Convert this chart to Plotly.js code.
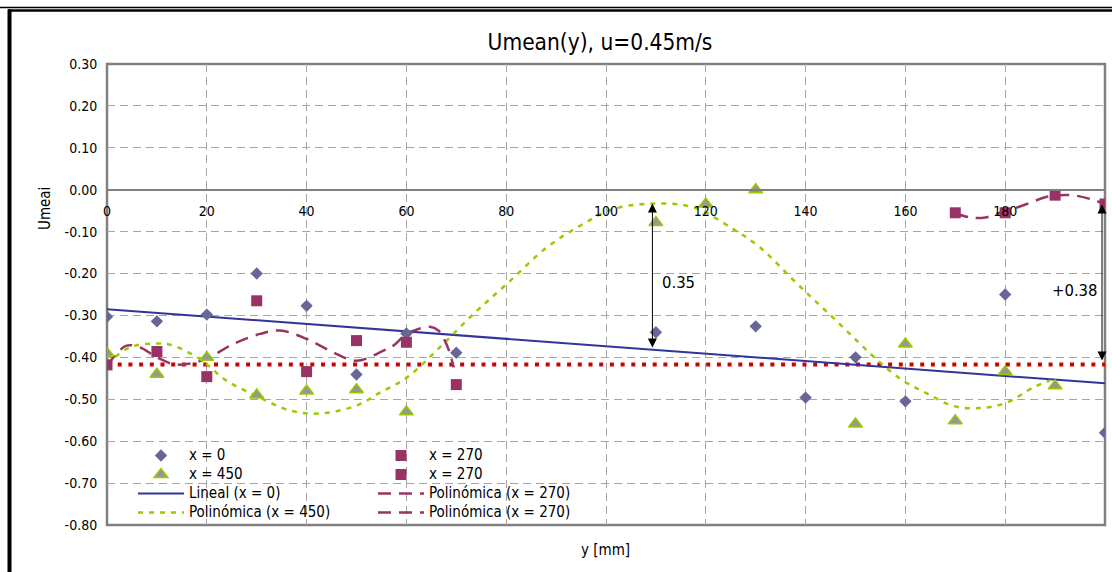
<!DOCTYPE html>
<html>
<head>
<meta charset="utf-8">
<script src="https://cdn.plot.ly/plotly-3.0.1.min.js"></script>
<style>
  html, body { margin: 0; padding: 0; background: #ffffff; }
  #chart { width: 1112px; height: 572px; }
</style>
</head>
<body>
<div id="chart"></div>
<script>
// ---------- DATA ----------
// horizontal axis: y [mm]; vertical axis: Umean
const posX0 = [0, 10, 20, 30, 40, 50, 60, 70, 110, 130, 140, 150, 160, 180, 200];
const umeanX0 = [-0.303, -0.314, -0.298, -0.200, -0.277, -0.441, -0.343, -0.389, -0.340, -0.326, -0.496, -0.400, -0.505, -0.250, -0.580];

const posX450 = [0, 10, 20, 30, 40, 50, 60, 110, 120, 130, 150, 160, 170, 180, 190];
const umeanX450 = [-0.390, -0.440, -0.400, -0.490, -0.480, -0.477, -0.530, -0.078, -0.034, 0.000, -0.559, -0.368, -0.551, -0.434, -0.468];

const posX270a = [0, 10, 20, 30, 40, 50, 60, 70];
const umeanX270a = [-0.418, -0.386, -0.446, -0.265, -0.434, -0.360, -0.364, -0.465];

const posX270b = [170, 180, 190, 200];
const umeanX270b = [-0.055, -0.055, -0.013, -0.034];

// trend line "Lineal (x = 0)"
const linPos = [0, 200];
const linVal = [-0.285, -0.462];

// trend curve "Polinómica (x = 450)"
const poly450Pos = [0, 4.6, 10, 13.3, 18.6, 24, 30, 36.7, 42.7, 50, 54.7, 60.1, 66.7, 73.4, 80.1, 88.1, 94.8, 101.5, 109.5, 117.5, 125.5, 130.9, 137.5, 141.9, 146.2, 150.6, 154.9, 159.6, 164.3, 169.6, 175, 180.3, 185.6, 189];
const poly450Val = [-0.416, -0.376, -0.367, -0.372, -0.404, -0.456, -0.492, -0.527, -0.534, -0.515, -0.484, -0.448, -0.376, -0.297, -0.225, -0.138, -0.086, -0.046, -0.033, -0.042, -0.094, -0.138, -0.215, -0.265, -0.313, -0.364, -0.412, -0.456, -0.486, -0.516, -0.521, -0.508, -0.472, -0.455];

// trend curves "Polinómica (x = 270)"
const poly270aPos = [0, 1.6, 3.9, 6.6, 10, 13.3, 16, 20, 25.3, 30.7, 34.7, 40, 45.3, 50, 55.4, 57.4, 60, 62, 64.7, 66.4, 67.7, 68.7, 69.5];
const poly270aVal = [-0.420, -0.396, -0.372, -0.376, -0.400, -0.416, -0.416, -0.403, -0.368, -0.344, -0.336, -0.356, -0.388, -0.408, -0.384, -0.372, -0.344, -0.334, -0.327, -0.336, -0.360, -0.390, -0.424];

const poly270bPos = [170, 173, 176, 179, 182, 185, 188, 191, 194, 197, 200];
const poly270bVal = [-0.056, -0.066, -0.066, -0.055, -0.044, -0.031, -0.018, -0.013, -0.014, -0.022, -0.034];

// horizontal red dotted reference level
const refPos = [0, 200];
const refVal = [-0.417, -0.417];

// double arrows with their labels
const arrowPos = [109.3, 199.4];
const arrowTop = [-0.033, -0.035];
const arrowBottom = [-0.380, -0.411];
const arrowLabels = ['0.35', '+0.38'];
const arrowLabelPos = [114.6, 193.9];
const arrowLabelVal = [-0.221, -0.241];

// axes
const xRange = [0, 200];
const yRange = [-0.8, 0.3];
const xTickVals = [0, 20, 40, 60, 80, 100, 120, 140, 160, 180, 200];
const xTickText = ['0', '20', '40', '60', '80', '100', '120', '140', '160', '180', '200'];
const yTickVals = [0.3, 0.2, 0.1, 0.0, -0.1, -0.2, -0.3, -0.4, -0.5, -0.6, -0.7, -0.8];
const yTickText = ['0.30', '0.20', '0.10', '0.00', '-0.10', '-0.20', '-0.30', '-0.40', '-0.50', '-0.60', '-0.70', '-0.80'];

const titleText = 'Umean(y), u=0.45m/s';
const xTitle = 'y [mm]';
const yTitle = 'Umeai';

// ---------- STYLE ----------
const FONT = "'DejaVu Sans Condensed', 'Liberation Sans Narrow', 'Arial Narrow', sans-serif";
const W = 1112, H = 572;
const M = { l: 107, r: 7, t: 64, b: 47 };
const PW = W - M.l - M.r, PH = H - M.t - M.b;
const px2x = p => (p - M.l) / PW;          // page px -> paper x
const py2y = p => (H - M.b - p) / PH;      // page px -> paper y
const LEG_TEXT = 15;
const leg = s => '<span style="font-size:' + LEG_TEXT + 'px">' + s + '</span>';

const traces = [
  // lines first
  { x: refPos, y: refVal, mode: 'lines', showlegend: false, hoverinfo: 'skip',
    line: { color: '#d00000', width: 4, dash: '4px,6.7px' } },
  { x: linPos, y: linVal, mode: 'lines', name: leg('Lineal (x = 0)'), legend: 'legend', legendrank: 3,
    line: { color: '#333399', width: 2 } },
  { x: poly450Pos, y: poly450Val, mode: 'lines', name: leg('Polinómica (x = 450)'), legend: 'legend', legendrank: 4,
    line: { color: '#99cc00', width: 2.5, dash: '5px,6px', shape: 'spline', smoothing: 1 } },
  { x: poly270aPos, y: poly270aVal, mode: 'lines', name: leg('Polinómica (x = 270)'), legend: 'legend2', legendrank: 3,
    line: { color: '#993366', width: 2.5, dash: '13px,8px', shape: 'spline', smoothing: 1 } },
  { x: poly270bPos, y: poly270bVal, mode: 'lines', name: leg('Polinómica (x = 270)'), legend: 'legend2', legendrank: 4,
    line: { color: '#993366', width: 2.5, dash: '13px,8px', shape: 'spline', smoothing: 1 } },
  // markers
  { x: posX0, y: umeanX0, mode: 'markers', name: leg('x = 0'), legend: 'legend', legendrank: 1,
    marker: { symbol: 'diamond', size: 9.5, color: '#666699' } },
  { x: posX450, y: umeanX450, mode: 'markers', name: leg('x = 450'), legend: 'legend', legendrank: 2,
    marker: { symbol: 'triangle-up', size: 12, color: '#969696', line: { color: '#99cc00', width: 1.5 } } },
  { x: posX270a, y: umeanX270a, mode: 'markers', name: leg('x = 270'), legend: 'legend2', legendrank: 1,
    marker: { symbol: 'square', size: 11, color: '#993366' } },
  { x: posX270b, y: umeanX270b, mode: 'markers', name: leg('x = 270'), legend: 'legend2', legendrank: 2,
    marker: { symbol: 'square', size: 11, color: '#993366' } }
];

const annotations = [];
for (let i = 0; i < arrowPos.length; i++) {
  annotations.push({
    x: arrowPos[i], y: arrowTop[i], ax: arrowPos[i], ay: arrowBottom[i],
    xref: 'x', yref: 'y', axref: 'x', ayref: 'y',
    text: '', showarrow: true, arrowside: 'end+start',
    arrowhead: 2, startarrowhead: 2, arrowsize: 1.8, startarrowsize: 1.8,
    arrowwidth: 1, arrowcolor: '#000000', standoff: 0, startstandoff: 0
  });
  annotations.push({
    x: arrowLabelPos[i], y: arrowLabelVal[i], xref: 'x', yref: 'y',
    xanchor: 'center', yanchor: 'middle',
    text: arrowLabels[i], showarrow: false,
    font: { family: FONT, size: 16.5, color: '#000000' }
  });
}
annotations.push({
  x: px2x(605), y: py2y(550), xref: 'paper', yref: 'paper',
  xanchor: 'center', yanchor: 'middle',
  text: xTitle, showarrow: false,
  font: { family: FONT, size: 15, color: '#000000' }
});
annotations.push({
  x: px2x(45), y: py2y(209), xref: 'paper', yref: 'paper',
  xanchor: 'center', yanchor: 'middle', textangle: -90,
  text: yTitle, showarrow: false,
  font: { family: FONT, size: 15, color: '#000000' }
});

const gridDash = '8px,5px';
const layout = {
  width: W, height: H,
  margin: M,
  paper_bgcolor: '#ffffff', plot_bgcolor: '#ffffff',
  font: { family: FONT, color: '#000000' },
  title: {
    text: titleText, font: { family: FONT, size: 22.5, color: '#000000' },
    x: px2x(600), xref: 'paper', xanchor: 'center',
    y: 1 - 42 / H, yref: 'container', yanchor: 'middle'
  },
  xaxis: {
    range: xRange, tickvals: xTickVals, ticktext: xTickText,
    anchor: 'free', position: (0 - yRange[0]) / (yRange[1] - yRange[0]),
    showline: true, linecolor: '#808080', linewidth: 2,
    showgrid: true, gridcolor: '#a6a6a6', gridwidth: 1, griddash: gridDash,
    zeroline: false, ticks: 'outside', ticklen: 0, ticklabelstandoff: 8,
    tickfont: { family: FONT, size: 14, color: '#000000' }
  },
  yaxis: {
    range: yRange, tickvals: yTickVals, ticktext: yTickText,
    showline: false,
    showgrid: true, gridcolor: '#a6a6a6', gridwidth: 1, griddash: gridDash,
    zeroline: false, ticks: 'outside', ticklen: 0, ticklabelstandoff: 6,
    tickfont: { family: FONT, size: 14, color: '#000000' }
  },
  legend: {
    x: px2x(133), y: py2y(441), xanchor: 'left', yanchor: 'top',
    bgcolor: 'rgba(0,0,0,0)', borderwidth: 0, itemwidth: 46, tracegroupgap: 0,
    font: { family: FONT, size: 12, color: '#000000' }
  },
  legend2: {
    x: px2x(373), y: py2y(441), xanchor: 'left', yanchor: 'top',
    bgcolor: 'rgba(0,0,0,0)', borderwidth: 0, itemwidth: 46, tracegroupgap: 0,
    font: { family: FONT, size: 12, color: '#000000' }
  },
  annotations: annotations,
  shapes: [
    { type: 'rect', xref: 'paper', yref: 'paper', x0: 0, x1: 1, y0: 0, y1: 1,
      line: { color: '#808080', width: 2.5 }, fillcolor: 'rgba(0,0,0,0)', layer: 'between' },
    { type: 'line', xref: 'paper', yref: 'paper', x0: px2x(0), x1: px2x(W), y0: py2y(7.5), y1: py2y(7.5),
      line: { color: '#000000', width: 1.5 }, layer: 'above' },
    { type: 'line', xref: 'paper', yref: 'paper', x0: px2x(8), x1: px2x(W), y0: py2y(10.5), y1: py2y(10.5),
      line: { color: '#000000', width: 2.5 }, layer: 'above' },
    { type: 'line', xref: 'paper', yref: 'paper', x0: px2x(9.5), x1: px2x(9.5), y0: py2y(9.5), y1: py2y(H + 5),
      line: { color: '#000000', width: 4 }, layer: 'above' }
  ],
  showlegend: true
};

Plotly.newPlot('chart', traces, layout, { staticPlot: true, displayModeBar: false });
</script>
</body>
</html>
